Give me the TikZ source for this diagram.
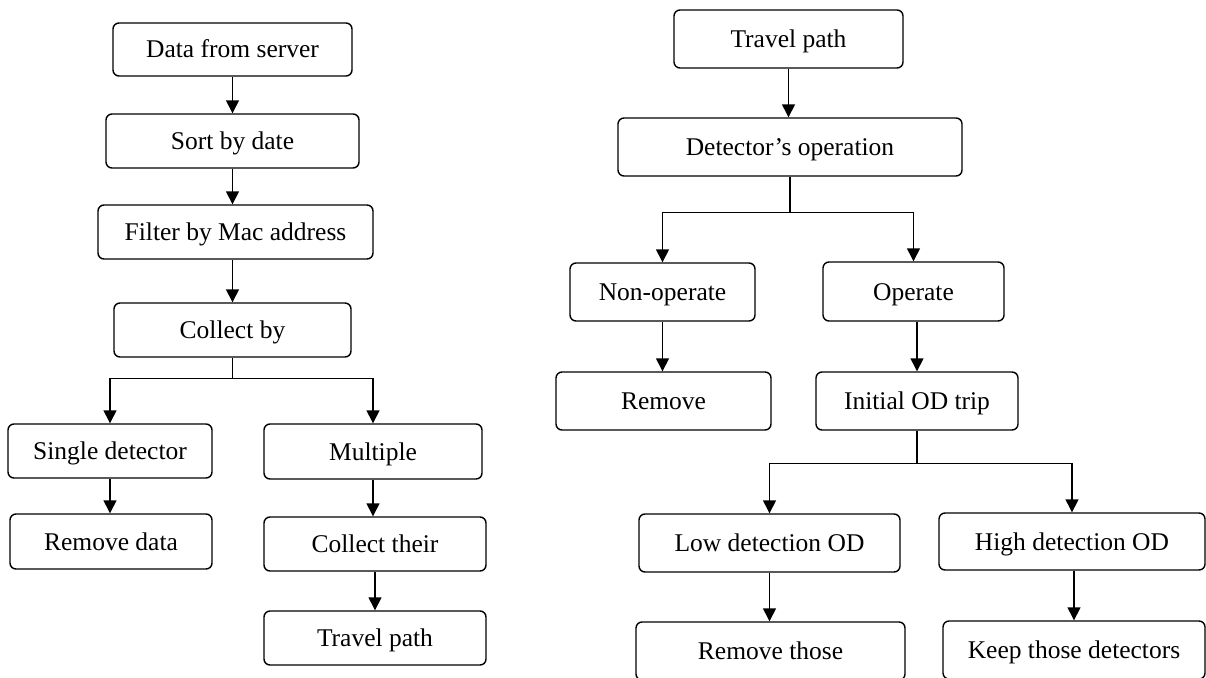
\documentclass[tikz,border=0pt]{standalone}
\usepackage{fontspec}
\setmainfont{Liberation Serif}
\usetikzlibrary{arrows.meta}
\begin{document}
\begin{tikzpicture}[x=1pt,y=-1pt,
  box/.style={draw, line width=1.4pt, rounded corners=6pt, inner sep=0pt,
    font=\fontsize{25.5}{30}\selectfont, text height=17pt, text depth=0pt, align=center},
  conn/.style={line width=1.4pt},
  arr/.style={line width=1.4pt, -{Triangle[width=13pt,length=13pt]}}]
\useasboundingbox (0,0) rectangle (1206,677);
\clip (0,0) rectangle (1206,677);
% left tree
\node[box, minimum width=239pt, minimum height=53pt] (L1) at (232.5,49.5) {Data from server};
\node[box, minimum width=253pt, minimum height=54pt] (L2) at (232.5,141) {Sort by date};
\node[box, minimum width=275pt, minimum height=54pt] (L3) at (235.5,232) {Filter by Mac address};
\node[box, minimum width=237pt, minimum height=54pt] (L4) at (232.5,330) {Collect by};
\node[box, minimum width=204pt, minimum height=54pt] (L5) at (110,451) {Single detector};
\node[box, minimum width=202pt, minimum height=55pt] (L6) at (111,541.5) {Remove data};
\node[box, minimum width=218pt, minimum height=55pt] (L7) at (373,451.5) {Multiple};
\node[box, minimum width=222pt, minimum height=54pt] (L8) at (375,544) {Collect their};
\node[box, minimum width=222pt, minimum height=54pt] (L9) at (375,638) {Travel path};
\draw[arr] (L1.south) -- (L1.south |- L2.north);
\draw[arr] (L2.south) -- (L2.south |- L3.north);
\draw[arr] (L2.south |- L3.south) -- (L2.south |- L4.north);
\draw[conn] (L4.south) -- ++(0,21) coordinate (lb);
\draw[arr] (lb) -| (L5.north);
\draw[arr] (lb) -| (L7.north);
\draw[arr] (L5.south) -- (L5.south |- L6.north);
\draw[arr] (L7.south) -- (L7.south |- L8.north);
\draw[arr] (L8.south) -- (L8.south |- L9.north);
% right tree
\node[box, minimum width=229pt, minimum height=58pt] (R1) at (788.5,39) {Travel path};
\node[box, minimum width=344pt, minimum height=58pt] (R2) at (790,147) {Detector’s operation};
\node[box, minimum width=185pt, minimum height=58pt] (R3) at (662.5,292) {Non-operate};
\node[box, minimum width=181pt, minimum height=59pt] (R4) at (913.5,291.5) {Operate};
\node[box, minimum width=215pt, minimum height=58pt] (R5) at (663.5,401) {Remove};
\node[box, minimum width=202pt, minimum height=58pt] (R6) at (917,401) {Initial OD trip};
\node[box, minimum width=261pt, minimum height=58pt] (R7) at (769.5,543) {Low detection OD};
\node[box, minimum width=266pt, minimum height=57pt] (R8) at (1072,541.5) {High detection OD};
\node[box, minimum width=269pt, minimum height=58pt] (R9) at (770.5,651) {Remove those};
\node[box, minimum width=262pt, minimum height=58pt] (R10) at (1074,650) {Keep those detectors};
\draw[arr] (R1.south) -- (R1.south |- R2.north);
\draw[conn] (R2.south) -- ++(0,36) coordinate (rb1);
\draw[arr] (rb1) -| (R3.north);
\draw[arr] (rb1) -| (R4.north);
\draw[arr] (R3.south) -- (R3.south |- R5.north);
\draw[arr] (R6.north |- R4.south) -- (R6.north);
\draw[conn] (R6.south) -- ++(0,33) coordinate (rb2);
\draw[arr] (rb2) -| (R7.north);
\draw[arr] (rb2) -| (R8.north);
\draw[arr] (R7.south) -- (R7.south |- R9.north);
\draw[arr] (R10.north |- R8.south) -- (R10.north);
\end{tikzpicture}
\end{document}
